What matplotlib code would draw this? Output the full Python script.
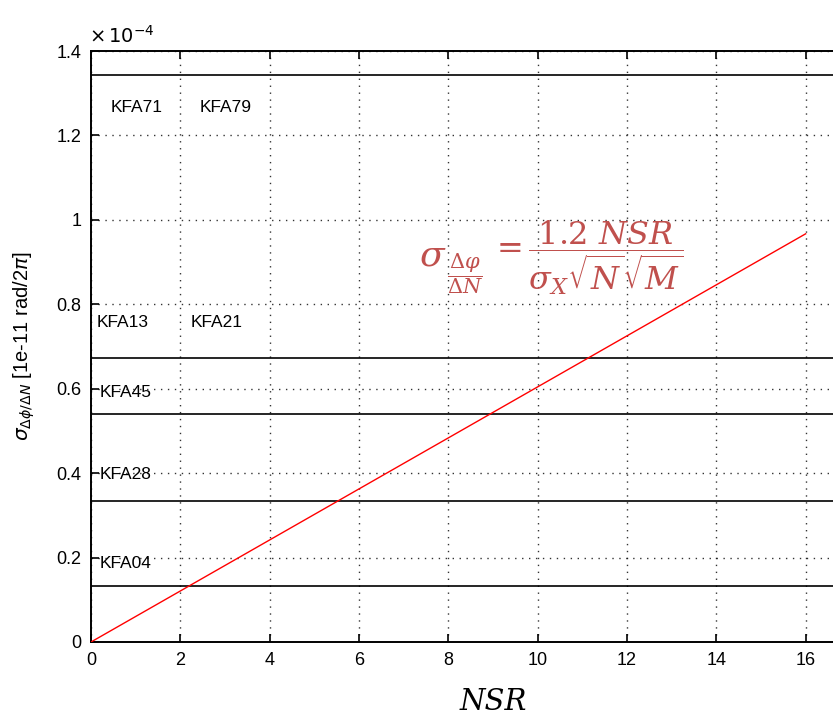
import matplotlib
matplotlib.use("Agg")
import matplotlib.pyplot as plt
import numpy as np

# Noise-to-signal ratio and resulting phase-slope uncertainty (x1e-4)
nsr = [0, 16]
sigma = [0.0, 0.967]

# Reference levels for individual detectors (x1e-4)
level_values = [1.343, 0.673, 0.540, 0.334, 0.133]

# Detector labels and where they sit (data coords, x1e-4 on y)
label_names = ["KFA71", "KFA79", "KFA13", "KFA21", "KFA45", "KFA28", "KFA04"]
label_x = [0.43, 2.44, 0.13, 2.22, 0.2, 0.2, 0.2]
label_y = [1.265, 1.265, 0.756, 0.756, 0.592, 0.396, 0.187]

x_ticks = [0, 2, 4, 6, 8, 10, 12, 14, 16]
y_ticks = [0, 0.2, 0.4, 0.6, 0.8, 1.0, 1.2, 1.4]
y_tick_labels = ["0", "0.2", "0.4", "0.6", "0.8", "1", "1.2", "1.4"]

plt.rcParams["font.family"] = ["Liberation Sans", "DejaVu Sans"]

W, H = 833, 718
fig = plt.figure(figsize=(W / 100, H / 100), dpi=100)
ax = fig.add_axes([91 / W, 76 / H, 804 / W, 591 / H])

ax.set_xlim(0, 18)
ax.set_ylim(0, 1.4)

for v in level_values:
    ax.axhline(v, color="black", lw=1.2, zorder=2)

ax.plot(nsr, sigma, color="red", lw=1.0, zorder=3)

for name, tx, ty in zip(label_names, label_x, label_y):
    ax.text(tx, ty, name, fontsize=12.5, va="center", ha="left", color="black", zorder=4)

ax.set_xticks(x_ticks)
ax.set_xticklabels([str(t) for t in x_ticks])
ax.set_yticks(y_ticks)
ax.set_yticklabels(y_tick_labels)
ax.tick_params(direction="in", length=6, width=1.2, labelsize=13, pad=7)
ax.tick_params(top=True, right=False)
ax.grid(True, color="black", linestyle=(0, (1, 4)), lw=1.0, alpha=0.8)
for s in ax.spines.values():
    s.set_linewidth(1.4)

# exponent multiplier
ax.text(-0.05, 1.41, r"$\times\,10^{-4}$", transform=ax.transData, fontsize=14,
        ha="left", va="bottom", clip_on=False)

fig.text(24 / W, 1 - 346 / H, r"$\sigma_{\Delta\phi/\Delta N}$ [1e-11 rad/2$\pi$]",
         fontsize=14.5, rotation=90, ha="center", va="center")

ax.set_xlabel("NSR", fontsize=21, family="DejaVu Serif", style="italic", labelpad=14)

# formula annotation, built from three pieces so the subscript fraction sits low
fcol = "#C0504D"
fig.text(446 / W, 1 - 256 / H, r"$\sigma$", fontsize=26, color=fcol,
         ha="right", va="center", math_fontfamily="dejavuserif")
fig.text(447 / W, 1 - 274 / H, r"$\dfrac{\Delta\varphi}{\Delta N}$", fontsize=15,
         color=fcol, ha="left", va="center", math_fontfamily="dejavuserif")
fig.text(490 / W, 1 - 258 / H,
         r"$= \dfrac{1.2\ NSR}{\sigma_X\sqrt{N}\sqrt{M}}$",
         fontsize=23, color=fcol, ha="left", va="center", math_fontfamily="dejavuserif")

fig.savefig("out.png", dpi=100)
